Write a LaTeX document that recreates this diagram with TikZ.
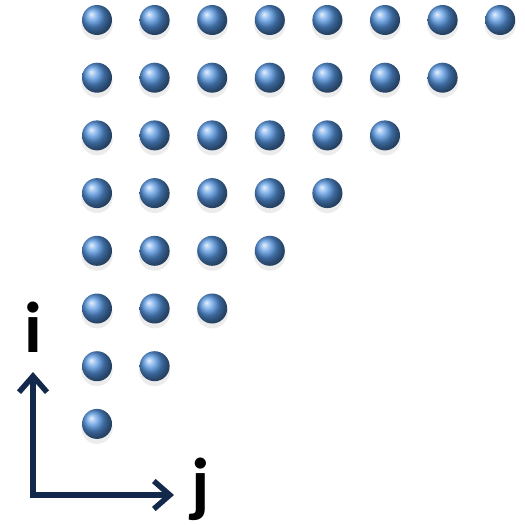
\documentclass[tikz,border=0pt]{standalone}
\usepackage{fontspec}
\setmainfont{Carlito}
\usepackage{tikz}
\usetikzlibrary{positioning,arrows.meta,shadows}
\definecolor{ballCol}{HTML}{5595e0}
\definecolor{axisCol}{HTML}{13294b}

\begin{document}
\begin{tikzpicture}[
  x=1pt, y=1pt,
  ball/.style={circle, minimum size=30pt, inner sep=0pt, shading=ball, ball color=ballCol,
               drop shadow={opacity=0.15, shadow xshift=0pt, shadow yshift=-4pt, shadow scale=1.05}},
  axis/.style={-{Straight Barb[length=16pt, width=28pt, line width=5.5pt]}, draw=axisCol, line width=5.5pt},
  lbl/.style={font=\fontsize{72}{72}\selectfont\bfseries, inner sep=0pt}
]
\useasboundingbox (0,0) rectangle (525,-525);

% ============ TRIANGLE OF POINTS ============
\foreach \r in {0,...,7}{
  \pgfmathtruncatemacro{\last}{7-\r}
  \foreach \c in {0,...,\last}{
    \node[ball] (b-\r-\c) at ({97+57.6*\c},{-20-57.7*\r}) {};
  }
}

% ============ AXES ============
\coordinate (o) at (33,-495);
\coordinate (itip) at (33,-372);
\coordinate (jtip) at (174,-495);
\node[lbl, anchor=base] (ilbl) at (33,-352) {i};
\node[lbl, anchor=base] (jlbl) at (201,-508) {j};

\draw[axis] (o) -- (itip);
\draw[axis] ([xshift=-2.75pt]o) -- (jtip);

\end{tikzpicture}
\end{document}
